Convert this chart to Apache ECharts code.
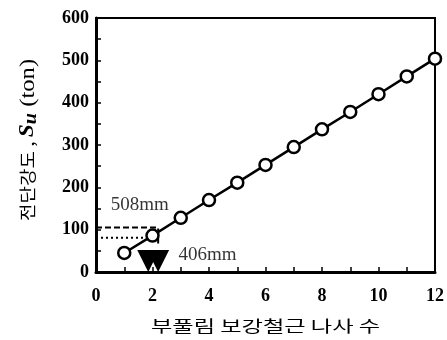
<!DOCTYPE html>
<html>
<head>
<meta charset="utf-8">
<script src="https://cdn.jsdelivr.net/npm/echarts@6/dist/echarts.min.js"></script>
<style>html,body{margin:0;padding:0;background:#fff;}#c{width:447px;height:340px;}</style>
</head>
<body>
<div id="c"></div>
<script>
// number of shear reinforcement screws vs. shear strength
const screwCounts = [1, 2, 3, 4, 5, 6, 7, 8, 9, 10, 11, 12];
const shearStrength = [45, 86, 128, 170, 211, 253, 295, 337, 378, 420, 462, 504];

// reference levels for the two pile diameters
const dashedLevel508 = [[0, 105], [2.2, 105], [2.2, 62]];
const dottedLevel406 = [[0, 81], [1.9, 81]];

// filled downward markers near the reference levels
const markerPoints = [[1.85, 26], [2.2, 26]];

// diameter labels
const diameterLabels = [
  { name: '508mm', value: [1.55, 158] },
  { name: '406mm', value: [3.95, 40] }
];

const xTicks = [0, 2, 4, 6, 8, 10, 12];
const yTicks = [0, 100, 200, 300, 400, 500, 600];

const xTitle = '부풀림 보강철근 나사 수';
const yTitleParts = ['전단강도', ' , ', 'S', 'u', ' (ton)'];

const serif = 'Liberation Serif';
const gridBox = { left: 96, right: 8, top: 18, bottom: 68 };
const W = 447, H = 340;

const chart = echarts.init(document.getElementById('c'));
chart.setOption({
  animation: false,
  grid: Object.assign({ show: true, borderColor: '#000', borderWidth: 2, backgroundColor: 'transparent' }, gridBox),
  xAxis: {
    type: 'value', min: xTicks[0], max: xTicks[xTicks.length - 1], interval: 2,
    axisLine: { lineStyle: { color: '#000', width: 3 } },
    axisTick: { inside: true, length: 5, lineStyle: { color: '#000', width: 1.5 } },
    minorTick: { show: true, splitNumber: 2, length: 5, lineStyle: { color: '#000', width: 1.5 } },
    axisLabel: { fontFamily: serif, fontWeight: 'bold', fontSize: 18, color: '#000', margin: 15 },
    splitLine: { show: false }
  },
  yAxis: {
    type: 'value', min: yTicks[0], max: yTicks[yTicks.length - 1], interval: 100,
    axisLine: { lineStyle: { color: '#000', width: 3 } },
    axisTick: { inside: true, length: 5, lineStyle: { color: '#000', width: 1.5 } },
    minorTick: { show: true, splitNumber: 2, length: 5, lineStyle: { color: '#000', width: 1.5 } },
    axisLabel: { fontFamily: serif, fontWeight: 'bold', fontSize: 18, color: '#000', margin: 7 },
    splitLine: { show: false }
  },
  graphic: [
    {
      type: 'text',
      x: (gridBox.left + W - gridBox.right) / 2 - 2,
      y: 326,
      scaleX: 1.45,
      style: {
        text: xTitle, fontFamily: 'Noto Sans CJK KR', fontSize: 16, fill: '#000',
        align: 'center', verticalAlign: 'middle'
      }
    },
    {
      type: 'text',
      x: 28,
      y: 140,
      rotation: Math.PI / 2,
      scaleX: 1.12,
      style: {
        text: '{k|' + yTitleParts[0] + '}{c|' + yTitleParts[1] + '}{s|' + yTitleParts[2] + '}{u|' + yTitleParts[3] + '}{t|' + yTitleParts[4] + '}',
        align: 'center', verticalAlign: 'middle', fill: '#000',
        rich: {
          k: { fontFamily: 'Noto Sans CJK KR', fontSize: 17, fill: '#000' },
          c: { fontFamily: 'Noto Sans CJK KR', fontSize: 17, fill: '#000' },
          s: { fontFamily: serif, fontStyle: 'italic', fontWeight: 'bold', fontSize: 21, fill: '#000' },
          u: { fontFamily: serif, fontStyle: 'italic', fontWeight: 'bold', fontSize: 18, fill: '#000', padding: [6, 0, 0, 0] },
          t: { fontFamily: serif, fontSize: 22, fill: '#000' }
        }
      }
    }
  ],
  series: [
    {
      type: 'line',
      data: dashedLevel508,
      symbol: 'none',
      lineStyle: { color: '#000', width: 2, type: [6, 3] },
      z: 2
    },
    {
      type: 'line',
      data: dottedLevel406,
      symbol: 'none',
      lineStyle: { color: '#000', width: 2, type: [2, 3] },
      z: 2
    },
    {
      type: 'scatter',
      data: markerPoints,
      symbol: 'triangle',
      symbolRotate: 180,
      symbolSize: [22, 22],
      itemStyle: { color: '#000', opacity: 1 },
      z: 3
    },
    {
      type: 'line',
      data: screwCounts.map((x, i) => [x, shearStrength[i]]),
      symbol: 'circle',
      symbolSize: 12,
      showAllSymbol: true,
      lineStyle: { color: '#000', width: 2.5 },
      itemStyle: { color: '#fff', borderColor: '#000', borderWidth: 2.5 },
      z: 5
    },
    {
      type: 'scatter',
      data: diameterLabels,
      symbolSize: 0,
      label: {
        show: true, position: 'inside', formatter: '{b}',
        fontFamily: serif, fontSize: 19, color: '#000'
      },
      z: 6
    }
  ]
});
</script>
</body>
</html>
